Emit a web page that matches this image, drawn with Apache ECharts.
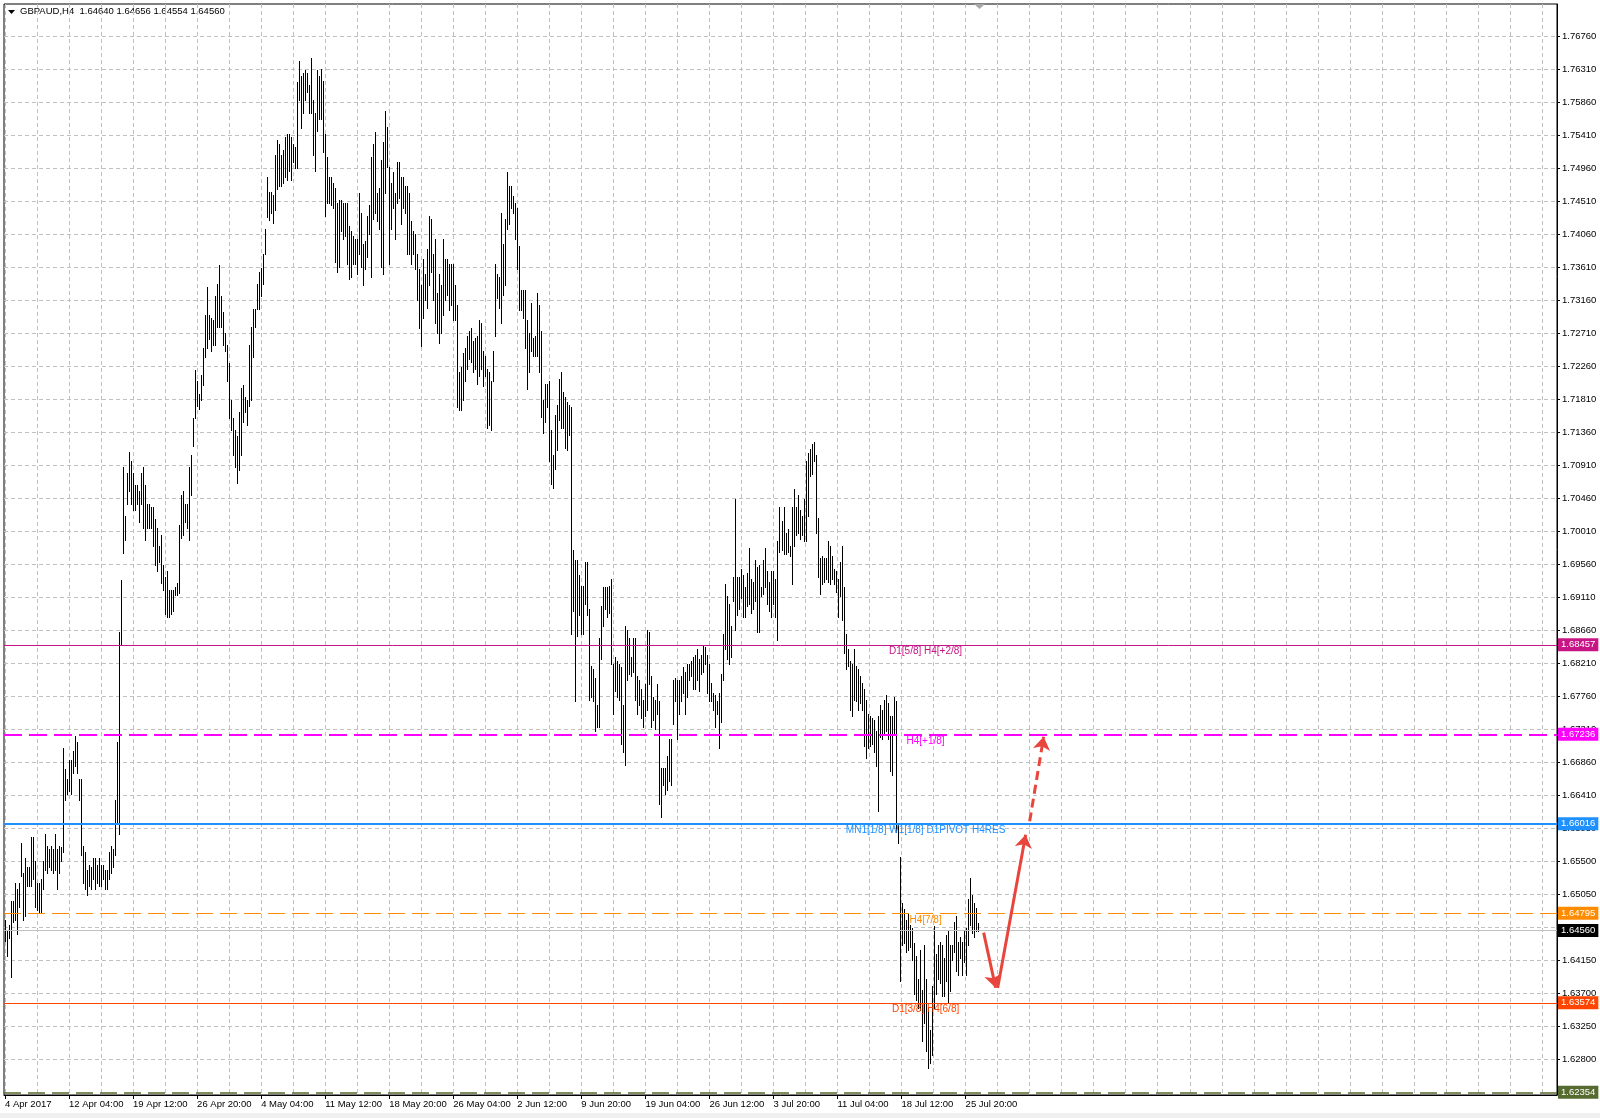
<!DOCTYPE html>
<html>
<head>
<meta charset="utf-8">
<script src="https://cdn.jsdelivr.net/npm/echarts@6/dist/echarts.min.js"></script>
<style>
html,body{margin:0;padding:0;background:#fff;}
#chart{width:1600px;height:1118px;}
</style>
</head>
<body>
<div id="chart"></div>
<script>
// ---------------- data ----------------
const symbolTitle = 'GBPAUD,H4';
const lastOHLC = ['1.64640', '1.64656', '1.64554', '1.64560'];

const xTickLabels = ['4 Apr 2017', '12 Apr 04:00', '19 Apr 12:00', '26 Apr 20:00', '4 May 04:00',
  '11 May 12:00', '18 May 20:00', '26 May 04:00', '2 Jun 12:00', '9 Jun 20:00', '19 Jun 04:00',
  '26 Jun 12:00', '3 Jul 20:00', '11 Jul 04:00', '18 Jul 12:00', '25 Jul 20:00'];
const barsPerXLabel = 32;
const barsPerXGrid = 16;
const slotCount = 776;

const yTickLabels = ['1.76760', '1.76310', '1.75860', '1.75410', '1.74960', '1.74510', '1.74060',
  '1.73610', '1.73160', '1.72710', '1.72260', '1.71810', '1.71360', '1.70910', '1.70460', '1.70010',
  '1.69560', '1.69110', '1.68660', '1.68210', '1.67760', '1.67310', '1.66860', '1.66410', '1.65950',
  '1.65500', '1.65050', '1.64600', '1.64150', '1.63700', '1.63250', '1.62800'];
const yMin = 1.62317;
const yMax = 1.77196;

// H4 bars: [high, low]
const priceBars = [
  [1.6471,1.6442],[1.6455,1.6421],[1.6463,1.6446],[1.6496,1.6392],[1.6496,1.6467],[1.6521,1.6471],[1.6513,1.6451],[1.6521,1.6488],
  [1.6576,1.6530],[1.6534,1.6471],[1.6555,1.6476],[1.6542,1.6517],[1.6542,1.6517],[1.6584,1.6517],[1.6584,1.6526],[1.6551,1.6488],[1.6521,1.6484],
  [1.6521,1.6480],[1.6526,1.6480],[1.6551,1.6513],[1.6588,1.6538],[1.6571,1.6534],[1.6567,1.6542],[1.6571,1.6538],[1.6567,1.6534],[1.6588,1.6538],
  [1.6567,1.6513],[1.6571,1.6534],[1.6570,1.6551],[1.6705,1.6563],[1.6676,1.6634],[1.6663,1.6642],[1.6688,1.6646],[1.6688,1.6642],[1.6701,1.6671],
  [1.6721,1.6680],[1.6713,1.6671],[1.6663,1.6634],[1.6663,1.6559],[1.6571,1.6521],[1.6563,1.6513],[1.6538,1.6505],
  [1.6546,1.6517],[1.6542,1.6513],[1.6555,1.6526],[1.6555,1.6513],[1.6546,1.6521],[1.6555,1.6517],[1.6546,1.6517],[1.6546,1.6526],[1.6538,1.6513],
  [1.6538,1.6513],[1.6563,1.6526],[1.6571,1.6534],[1.6567,1.6542],[1.6634,1.6559],[1.6713,1.6601],[1.6863,1.6588],
  [1.6934,1.6846],[1.7088,1.6971],[1.7021,1.6988],[1.7080,1.7038],[1.7109,1.7055],[1.7096,1.7038],[1.7080,1.7030],[1.7063,1.7030],[1.7063,1.7038],
  [1.7055,1.7013],[1.7080,1.7038],[1.7088,1.7005],[1.7063,1.6988],[1.7038,1.7005],[1.7038,1.7005],[1.7034,1.7005],[1.7034,1.6980],[1.7017,1.6955],
  [1.7005,1.6946],[1.6980,1.6959],[1.6996,1.6930],[1.6955,1.6921],[1.6938,1.6888],[1.6946,1.6884],[1.6921,1.6884],[1.6921,1.6888],[1.6921,1.6892],
  [1.6925,1.6913],[1.6930,1.6913],[1.7009,1.6917],[1.7050,1.6992],[1.7055,1.6996],[1.7038,1.7013],[1.7038,1.7005],[1.7088,1.6988],[1.7105,1.7050],
  [1.7155,1.7117],[1.7221,1.7155],[1.7205,1.7171],[1.7188,1.7167],[1.7213,1.7180],[1.7250,1.7200],[1.7296,1.7238],[1.7334,1.7250],[1.7296,1.7263],
  [1.7292,1.7246],[1.7288,1.7254],[1.7321,1.7254],[1.7338,1.7279],[1.7363,1.7279],[1.7321,1.7279],[1.7300,1.7254],[1.7271,1.7246],[1.7254,1.7205],
  [1.7230,1.7155],[1.7180,1.7138],[1.7155,1.7105],[1.7138,1.7088],[1.7130,1.7067],[1.7163,1.7084],[1.7196,1.7105],[1.7200,1.7150],[1.7184,1.7163],
  [1.7180,1.7146],[1.7254,1.7171],[1.7279,1.7180],[1.7304,1.7238],[1.7304,1.7279],[1.7338,1.7304],[1.7354,1.7304],[1.7359,1.7321],[1.7379,1.7338],
  [1.7413,1.7379],[1.7484,1.7429],[1.7463,1.7425],[1.7463,1.7434],[1.7459,1.7421],[1.7513,1.7438],[1.7534,1.7467],[1.7529,1.7471],[1.7513,1.7471],
  [1.7521,1.7475],[1.7538,1.7484],[1.7542,1.7479],[1.7542,1.7492],[1.7538,1.7479],[1.7529,1.7504],[1.7525,1.7496],[1.7613,1.7496],[1.7642,1.7588],
  [1.7621,1.7550],[1.7625,1.7571],[1.7629,1.7588],[1.7625,1.7600],[1.7609,1.7571],[1.7646,1.7571],[1.7588,1.7513],[1.7571,1.7492],[1.7629,1.7546],
  [1.7621,1.7563],
  [1.7631,1.7563],[1.7615,1.7518],[1.7542,1.7431],[1.7511,1.7448],[1.7483,1.7448],[1.7483,1.7445],[1.7476,1.7441],[1.7469,1.7368],[1.7448,1.7354],[1.7452,1.7361],
  [1.7452,1.7410],[1.7448,1.7399],[1.7448,1.7403],[1.7448,1.7365],[1.7417,1.7344],[1.7410,1.7347],[1.7403,1.7365],[1.7399,1.7365],[1.7399,1.7351],[1.7462,1.7379],
  [1.7434,1.7361],[1.7392,1.7337],[1.7396,1.7358],[1.7431,1.7375],[1.7445,1.7406],[1.7511,1.7347],[1.7528,1.7427],[1.7545,1.7434],[1.7462,1.7424],[1.7469,1.7413],
  [1.7507,1.7361],[1.7531,1.7351],[1.7573,1.7462],[1.7552,1.7497],[1.7497,1.7365],[1.7476,1.7413],[1.7490,1.7441],[1.7462,1.7399],[1.7504,1.7448],[1.7504,1.7455],
  [1.7483,1.7420],[1.7483,1.7441],[1.7472,1.7434],[1.7472,1.7379],[1.7462,1.7379],[1.7424,1.7365],[1.7410,1.7379],[1.7406,1.7358],[1.7379,1.7316],[1.7358,1.7278],
  [1.7337,1.7253],[1.7372,1.7292],[1.7351,1.7316],[1.7385,1.7305],[1.7431,1.7337],[1.7427,1.7354],[1.7379,1.7316],[1.7399,1.7285],[1.7326,1.7271],[1.7351,1.7257],
  [1.7337,1.7271],[1.7399,1.7295],[1.7372,1.7316],[1.7372,1.7323],[1.7365,1.7302],[1.7365,1.7309],[1.7365,1.7288],[1.7337,1.7288],[1.7309,1.7170],[1.7218,1.7166],
  [1.7225,1.7166],[1.7243,1.7180],[1.7250,1.7205],[1.7267,1.7222],[1.7274,1.7236],[1.7278,1.7232],[1.7260,1.7218],[1.7264,1.7222],[1.7267,1.7201],[1.7288,1.7212],
  [1.7285,1.7222],[1.7246,1.7198],[1.7239,1.7212],[1.7222,1.7142],[1.7218,1.7145],[1.7205,1.7138],[1.7246,1.7205],[1.7365,1.7267],[1.7351,1.7319],[1.7347,1.7305],
  [1.7434,1.7285],[1.7392,1.7323],[1.7427,1.7337],[1.7490,1.7413],[1.7472,1.7420],[1.7472,1.7441],[1.7458,1.7434],[1.7448,1.7399],[1.7441,1.7358],[1.7389,1.7302],
  [1.7330,1.7302],[1.7330,1.7292],[1.7330,1.7250],[1.7288,1.7194],[1.7271,1.7218],[1.7312,1.7246],[1.7264,1.7239],[1.7267,1.7239],[1.7326,1.7239],[1.7309,1.7218],
  [1.7274,1.7156],[1.7180,1.7135],[1.7201,1.7149],[1.7201,1.7170],[1.7205,1.7097],[1.7138,1.7065],[1.7104,1.7059],[1.7159,1.7086],[1.7173,1.7111],[1.7208,1.7152],
  [1.7218,1.7142],[1.7191,1.7142],[1.7184,1.7114],[1.7177,1.7111],[1.7173,1.7132],
  [1.7170,1.6860],[1.6975,1.6892],[1.6961,1.6769],[1.6961,1.6858],[1.6941,1.6886],[1.6926,1.6860],[1.6926,1.6860],[1.6958,1.6901],[1.6958,1.6886],[1.6895,1.6771],
  [1.6817,1.6774],[1.6812,1.6769],[1.6800,1.6728],[1.6763,1.6734],[1.6855,1.6734],[1.6898,1.6826],[1.6924,1.6872],[1.6924,1.6895],[1.6924,1.6883],[1.6926,1.6889],
  [1.6935,1.6820],[1.6820,1.6751],[1.6829,1.6783],[1.6823,1.6774],[1.6820,1.6771],[1.6815,1.6711],[1.6763,1.6700],[1.6872,1.6682],[1.6866,1.6797],[1.6855,1.6806],
  [1.6829,1.6803],[1.6855,1.6809],[1.6855,1.6771],[1.6803,1.6751],[1.6797,1.6763],[1.6786,1.6746],[1.6771,1.6734],[1.6792,1.6749],[1.6866,1.6757],[1.6863,1.6792],
  [1.6803,1.6734],[1.6774,1.6743],[1.6771,1.6731],[1.6792,1.6751],[1.6769,1.6628],[1.6677,1.6611],[1.6677,1.6654],[1.6677,1.6642],[1.6694,1.6648],[1.6717,1.6660],
  [1.6717,1.6654],[1.6797,1.6737],[1.6800,1.6769],[1.6797,1.6717],[1.6797,1.6751],[1.6803,1.6769],[1.6815,1.6780],[1.6809,1.6751],[1.6820,1.6774],[1.6820,1.6797],
  [1.6823,1.6803],[1.6829,1.6786],[1.6832,1.6786],[1.6840,1.6797],[1.6826,1.6783],[1.6832,1.6806],[1.6846,1.6809],[1.6843,1.6820],[1.6832,1.6780],[1.6820,1.6769],
  [1.6794,1.6769],[1.6780,1.6757],[1.6777,1.6734],[1.6769,1.6751],[1.6780,1.6705],[1.6806,1.6740],[1.6860,1.6797],[1.6929,1.6840],[1.6912,1.6826],[1.6901,1.6820],
  [1.6872,1.6829],[1.6938,1.6906],[1.7044,1.6866],[1.6938,1.6886],[1.6938,1.6895],[1.6949,1.6909],[1.6941,1.6883],[1.6924,1.6883],[1.6944,1.6898],[1.6978,1.6901],
  [1.6935,1.6889],[1.6932,1.6895],[1.6961,1.6906],[1.6952,1.6863],[1.6955,1.6863],[1.6924,1.6912],[1.6961,1.6915],[1.6978,1.6924],[1.6947,1.6901],[1.6932,1.6892],
  [1.6947,1.6883],[1.6947,1.6901],[1.6935,1.6883],[1.6987,1.6852],[1.7033,1.6972],[1.7015,1.6975],[1.7033,1.6970],[1.6998,1.6970],[1.7004,1.6972],[1.6981,1.6967],
  [1.7033,1.6929],[1.7058,1.6981],[1.7033,1.6995],[1.7050,1.6998],[1.7030,1.6990],[1.7021,1.6995],[1.7044,1.6987],[1.7096,1.6987],[1.7107,1.7021],[1.7113,1.7076],
  [1.7119,1.7079],[1.7122,1.7096],[1.7104,1.6998],[1.7018,1.6938],[1.6964,1.6915],[1.6967,1.6929],[1.6964,1.6932],[1.6964,1.6935],[1.6987,1.6932],[1.6981,1.6929],
  [1.6967,1.6935],[1.6949,1.6929],[1.6947,1.6918],[1.6935,1.6883],[1.6958,1.6912],[1.6981,1.6880],[1.6924,1.6835],[1.6860,1.6812],[1.6840,1.6817],[1.6823,1.6757],
  [1.6820,1.6749],[1.6840,1.6771],[1.6817,1.6769],[1.6812,1.6757],[1.6803,1.6766],[1.6794,1.6757],[1.6786,1.6708],[1.6771,1.6691],[1.6751,1.6705],[1.6749,1.6708],
  [1.6746,1.6711],[1.6743,1.6700],[1.6728,1.6680],[1.6749,1.6619],[1.6763,1.6720],[1.6757,1.6717],[1.6771,1.6723],[1.6777,1.6728],[1.6766,1.6717],[1.6749,1.6674],
  [1.6749,1.6668],[1.6774,1.6726],[1.6769,1.6591],[1.6602,1.6576],[1.6556,1.6387],[1.6493,1.6436],[1.6485,1.6439],[1.6470,1.6427],[1.6479,1.6430],[1.6464,1.6433],
  [1.6459,1.6416],[1.6439,1.6370],[1.6421,1.6361],[1.6390,1.6350],[1.6430,1.6347],[1.6375,1.6306],[1.6436,1.6330],[1.6390,1.6292],[1.6350,1.6269],[1.6321,1.6275],
  [1.6381,1.6286],[1.6462,1.6350],[1.6424,1.6370],[1.6436,1.6390],[1.6441,1.6384],[1.6436,1.6367],[1.6418,1.6367],[1.6450,1.6387],[1.6456,1.6358],[1.6436,1.6373],
  [1.6436,1.6416],[1.6467,1.6427],[1.6476,1.6401],[1.6441,1.6396],[1.6447,1.6418],[1.6441,1.6396],[1.6456,1.6413],[1.6459,1.6396],[1.6499,1.6436],[1.6527,1.6464],
  [1.6505,1.6453],[1.6493,1.6447],[1.6487,1.6456],[1.64656,1.64554]
];

const levelPrices = [1.68457, 1.67236, 1.66016, 1.64795, 1.63574, 1.62354];
const levelTexts = ['D1[5/8] H4[+2/8]', 'H4[+1/8]', 'MN1[1/8] W1[1/8] D1PIVOT H4RES', 'H4[7/8]', 'D1[3/8] H4[6/8]', ''];
const bidPrice = 1.64560;
const levelTextBar = 460;

// annotation arrows: [bar index, price] start -> end
const arrowPaths = [
  [[489, 1.64531], [495, 1.63779]],
  [[496, 1.63776], [510, 1.65867]],
  [[512, 1.66049], [519, 1.67204]]
];

// ---------------- styles ----------------
function fontAvailable(name) {
  const ctx = document.createElement('canvas').getContext('2d');
  const sample = '1.76760 GBPAUD,H4 Apr Jul';
  ctx.font = '20px monospace';
  const w1 = ctx.measureText(sample).width;
  ctx.font = '20px serif';
  const w2 = ctx.measureText(sample).width;
  ctx.font = '20px "' + name + '", monospace';
  const w3 = ctx.measureText(sample).width;
  ctx.font = '20px "' + name + '", serif';
  const w4 = ctx.measureText(sample).width;
  return w3 !== w1 || w4 !== w2;
}
const FONT = '"Liberation Sans", Arial, sans-serif';
const HAS_NARROW = fontAvailable('Liberation Sans Narrow');
const AXIS_FONT = HAS_NARROW ? '"Liberation Sans Narrow", "Liberation Sans", sans-serif' : FONT;
const AXIS_SIZE = HAS_NARROW ? 11 : 9.5;
const HEAD_SIZE = HAS_NARROW ? 11.5 : 9.5;

const levelStyles = [
  { color: '#C71585', type: 'solid', width: 1 },
  { color: '#FF00FF', type: [18, 7], width: 2 },
  { color: '#1E90FF', type: 'solid', width: 2 },
  { color: '#FF8C00', type: [17, 7], width: 1 },
  { color: '#FF4500', type: 'solid', width: 1 },
  { color: '#556B2F', type: [17, 7], width: 1.5 }
];
const arrowStyles = [
  { color: '#E8453C', type: 'solid', width: 3 },
  { color: '#E8453C', type: 'solid', width: 3 },
  { color: '#E8453C', type: [9, 5], width: 3 }
];

const xCategories = Array.from({ length: slotCount }, (_, i) =>
  (i % barsPerXLabel === 0 && xTickLabels[i / barsPerXLabel]) || '');
const barData = priceBars.map((b, i) => [i, b[0], b[1]]);
const hasLabel = (idx, val) => val !== '';

const chart = echarts.init(document.getElementById('chart'), null, { renderer: 'canvas' });

const levelLines = levelPrices.map((p, i) => ({
  yAxis: p,
  lineStyle: { color: levelStyles[i].color, type: levelStyles[i].type, width: levelStyles[i].width },
  label: {
    show: true, position: 'end', distance: 1, formatter: p.toFixed(5),
    color: '#fff', backgroundColor: levelStyles[i].color, padding: [1, 3, 1, 3],
    fontSize: AXIS_SIZE, fontFamily: AXIS_FONT, lineHeight: 11
  }
}));
levelLines.push({
  yAxis: bidPrice,
  lineStyle: { color: '#C0C0C0', type: 'solid', width: 1 },
  label: {
    show: true, position: 'end', distance: 1, formatter: bidPrice.toFixed(5),
    color: '#fff', backgroundColor: '#000', padding: [1, 3, 1, 3],
    fontSize: AXIS_SIZE, fontFamily: AXIS_FONT, lineHeight: 11
  }
});

const levelTextPoints = levelTexts.map((t, i) => t ? ({
  coord: [levelTextBar, levelPrices[i]],
  label: {
    show: true, position: 'bottom', distance: 1, formatter: t,
    color: levelStyles[i].color, fontSize: 10, fontFamily: FONT
  }
}) : null).filter(Boolean);

const arrowLines = arrowPaths.map((a, i) => [
  { coord: a[0], lineStyle: { color: arrowStyles[i].color, type: arrowStyles[i].type, width: arrowStyles[i].width } },
  { coord: a[1] }
]);

const option = {
  animation: false,
  backgroundColor: '#fff',
  textStyle: { fontFamily: FONT },
  grid: {
    left: 4, top: 4, right: 43, bottom: 23,
    show: true, borderColor: '#000', borderWidth: 1, backgroundColor: '#fff',
    containLabel: false, outerBoundsMode: 'none'
  },
  xAxis: {
    type: 'category',
    data: xCategories,
    boundaryGap: true,
    axisLine: { show: true, lineStyle: { color: '#000', width: 1 } },
    axisTick: { show: true, interval: hasLabel, alignWithLabel: true, length: 4, lineStyle: { color: '#000' } },
    axisLabel: {
      show: true, interval: hasLabel, align: 'left', margin: 4,
      color: '#000', fontSize: AXIS_SIZE, fontFamily: AXIS_FONT
    },
    splitLine: {
      show: true, interval: barsPerXGrid - 1, alignWithLabel: true,
      lineStyle: { color: '#C0C0C0', type: [4, 3], width: 1 }
    }
  },
  yAxis: {
    type: 'value',
    position: 'right',
    min: yMin, max: yMax,
    scale: true,
    axisLine: { show: true, lineStyle: { color: '#000', width: 1 } },
    axisTick: { show: true, length: 3, inside: false, lineStyle: { color: '#000' }, customValues: yTickLabels.map(Number) },
    axisLabel: {
      show: true, margin: 5, color: '#000', fontSize: AXIS_SIZE, fontFamily: AXIS_FONT,
      customValues: yTickLabels.map(Number),
      formatter: v => v.toFixed(5)
    },
    splitLine: { show: true, lineStyle: { color: '#C0C0C0', type: [4, 3], width: 1 } }
  },
  series: [
    {
      type: 'custom',
      name: 'GBPAUD',
      data: barData,
      encode: { x: 0, y: [1, 2] },
      z: 3,
      silent: true,
      renderItem: function (params, api) {
        const idx = api.value(0);
        const top = api.coord([idx, api.value(1)]);
        const bot = api.coord([idx, api.value(2)]);
        const px = Math.round(top[0]) + 0.5;
        return {
          type: 'line',
          shape: { x1: px, y1: Math.round(top[1]), x2: px, y2: Math.round(bot[1]) + 1 },
          style: { stroke: '#000', lineWidth: 1 }
        };
      }
    },
    {
      type: 'line',
      name: 'levels',
      data: [],
      z: 2,
      silent: true,
      markLine: {
        silent: true, animation: false,
        symbol: ['none', 'none'],
        precision: 5,
        data: levelLines
      }
    },
    {
      type: 'line',
      name: 'levelTexts',
      data: [],
      z: 4,
      silent: true,
      markPoint: {
        silent: true, animation: false,
        symbol: 'circle', symbolSize: 1,
        itemStyle: { color: 'rgba(0,0,0,0)' },
        data: levelTextPoints
      }
    },
    {
      type: 'line',
      name: 'arrows',
      data: [],
      z: 5,
      silent: true,
      markLine: {
        silent: true, animation: false,
        symbol: ['none', 'arrow'],
        symbolSize: 13,
        label: { show: false },
        data: arrowLines
      }
    }
  ],
  graphic: [
    { type: 'polygon', shape: { points: [[8, 10], [15, 10], [11.5, 14]] }, style: { fill: '#000' } },
    { type: 'text', left: 20, top: 6, style: { text: symbolTitle + '  ' + lastOHLC.join(' '), fill: '#000', font: HEAD_SIZE + 'px ' + AXIS_FONT } },
    { type: 'polygon', shape: { points: [[974, 4], [985, 4], [979.5, 9]] }, style: { fill: '#A8A8A8' } },
    { type: 'rect', shape: { x: 0, y: 1113, width: 1600, height: 5 }, style: { fill: '#F0F0F0' } }
  ]
};

chart.setOption(option);
</script>
</body>
</html>
